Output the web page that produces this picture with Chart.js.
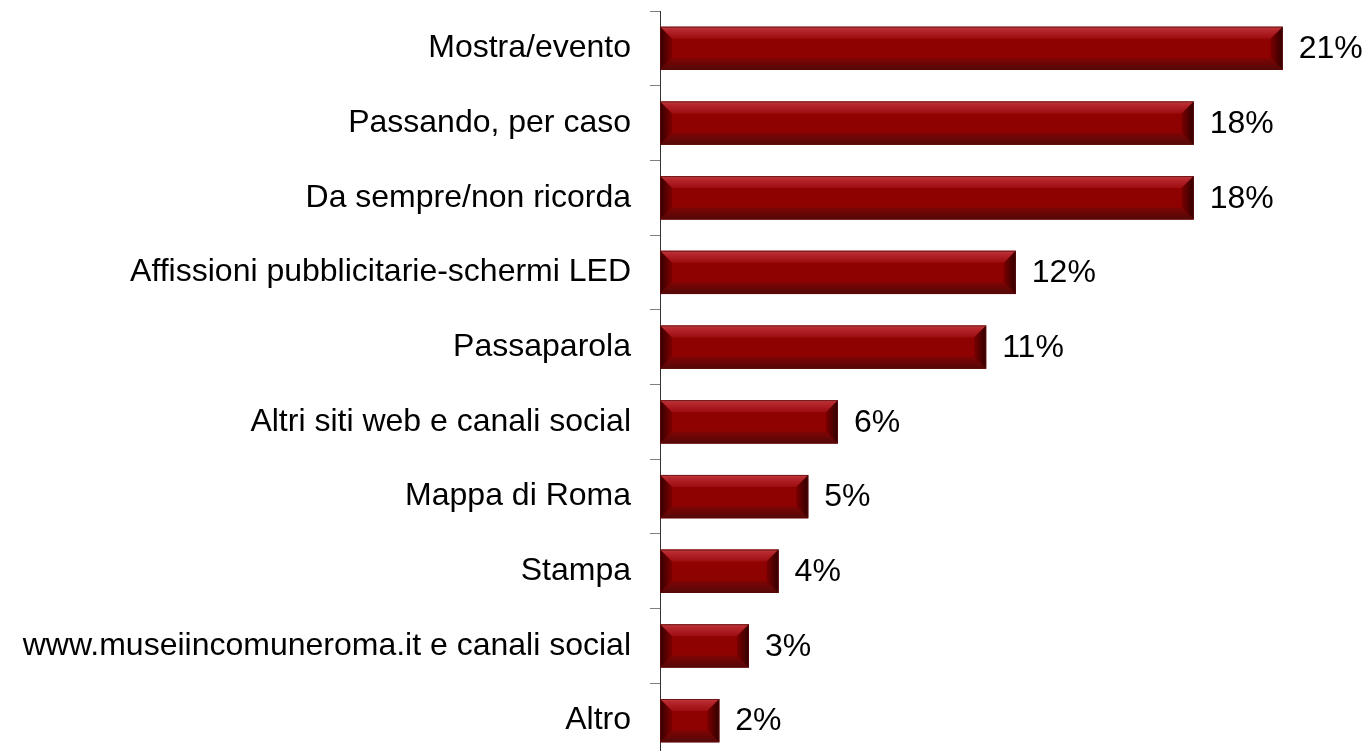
<!DOCTYPE html>
<html lang="it">
<head>
<meta charset="utf-8">
<title>Come ha conosciuto il museo</title>
<script src="https://cdn.jsdelivr.net/npm/chart.js@4/dist/chart.umd.min.js"></script>
<style>
  html, body { margin: 0; padding: 0; background: #fff; overflow: hidden; }
  #wrap { width: 1366px; height: 758px; }
</style>
</head>
<body>
<div id="wrap"><canvas id="chart"></canvas></div>
<script>
const categories = [
  'Mostra/evento',
  'Passando, per caso',
  'Da sempre/non ricorda',
  'Affissioni pubblicitarie-schermi LED',
  'Passaparola',
  'Altri siti web e canali social',
  'Mappa di Roma',
  'Stampa',
  'www.museiincomuneroma.it e canali social',
  'Altro'
]
const percents = [21, 18, 18, 12, 11, 6, 5, 4, 3, 2]

const FONT = "'Liberation Sans', Arial, sans-serif"

function face(ctx, pts, fill) {
  ctx.fillStyle = fill
  ctx.beginPath()
  ctx.moveTo(pts[0][0], pts[0][1])
  for (let k = 1; k < pts.length; k++) ctx.lineTo(pts[k][0], pts[k][1])
  ctx.closePath()
  ctx.fill()
}

// bevelled bar look + value labels at the end of each bar
const bevelBars = {
  id: 'bevelBars',
  afterDatasetsDraw(chart) {
    const ctx = chart.ctx
    const meta = chart.getDatasetMeta(0)
    meta.data.forEach((bar, i) => {
      const p = bar.getProps(['x', 'y', 'base', 'height'], true)
      const x0 = Math.min(p.base, p.x), x1 = Math.max(p.base, p.x)
      const y0 = p.y - p.height / 2, y1 = p.y + p.height / 2
      const b = Math.min(12, (x1 - x0) / 2)

      ctx.save()
      // top face
      let g = ctx.createLinearGradient(0, y0, 0, y0 + b)
      g.addColorStop(0, '#c2484c')
      g.addColorStop(0.2, '#b82a30')
      g.addColorStop(1, '#9c0c10')
      face(ctx, [[x0, y0], [x1, y0], [x1 - b, y0 + b], [x0 + b, y0 + b]], g)

      // bottom face
      g = ctx.createLinearGradient(0, y1 - b, 0, y1)
      g.addColorStop(0, '#800404')
      g.addColorStop(1, '#520808')
      face(ctx, [[x0, y1], [x1, y1], [x1 - b, y1 - b], [x0 + b, y1 - b]], g)

      // left face
      g = ctx.createLinearGradient(x0, 0, x0 + b, 0)
      g.addColorStop(0, '#360000')
      g.addColorStop(1, '#7c0000')
      face(ctx, [[x0, y0], [x0 + b, y0 + b], [x0 + b, y1 - b], [x0, y1]], g)

      // right face
      g = ctx.createLinearGradient(x1 - b, 0, x1, 0)
      g.addColorStop(0, '#7a0000')
      g.addColorStop(1, '#300000')
      face(ctx, [[x1, y0], [x1 - b, y0 + b], [x1 - b, y1 - b], [x1, y1]], g)

      ctx.strokeStyle = 'rgba(90, 10, 10, 0.8)'
      ctx.lineWidth = 1
      ctx.strokeRect(x0 + 0.5, y0 + 0.5, x1 - x0 - 1, y1 - y0 - 1)

      // value label
      ctx.fillStyle = '#000'
      ctx.font = '32px ' + FONT
      ctx.textAlign = 'left'
      ctx.textBaseline = 'middle'
      ctx.fillText(percents[i] + '%', x1 + 16, p.y + 1)
      ctx.restore()
    })
  }
}

new Chart(document.getElementById('chart'), {
  type: 'bar',
  data: {
    labels: categories,
    datasets: [{
      data: percents,
      backgroundColor: '#8e0202',
      borderWidth: 0,
      barPercentage: 0.58,
      categoryPercentage: 1
    }]
  },
  options: {
    indexAxis: 'y',
    responsive: true,
    maintainAspectRatio: false,
    animation: false,
    layout: { autoPadding: false, padding: { top: 11, right: 24, bottom: 0, left: 0 } },
    plugins: {
      legend: { display: false },
      tooltip: { enabled: false }
    },
    scales: {
      x: {
        display: false,
        min: 0,
        max: 23
      },
      y: {
        afterFit: (scale) => {
          scale.width = 660
          scale.paddingTop = 0
          scale.paddingBottom = 0
        },
        border: { display: true, color: '#333', width: 1 },
        grid: {
          drawOnChartArea: false,
          drawTicks: true,
          tickLength: 10,
          color: '#7f7f7f',
          offset: true
        },
        ticks: {
          color: '#000',
          padding: 19,
          font: { family: FONT, size: 32 }
        }
      }
    }
  },
  plugins: [bevelBars]
})
</script>
</body>
</html>
